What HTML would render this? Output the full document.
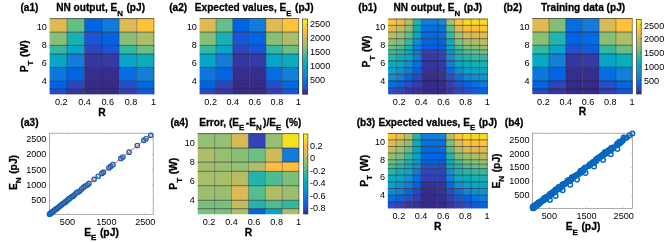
<!DOCTYPE html>
<html><head><meta charset="utf-8"><style>
html,body{margin:0;padding:0;background:#fff;width:665px;height:243px;overflow:hidden}
svg{display:block}
svg text{font-family:"Liberation Sans", sans-serif;fill:#000}
svg text[font-weight=bold]{stroke:#000;stroke-width:0.28px}
svg{will-change:transform}
</style></head><body>
<svg width="665" height="243" viewBox="0 0 665 243"><g class="t">
<text x="20.50" y="11.20" font-size="10.1" font-weight="bold" text-anchor="start" >(a1)</text>
<text x="56.20" y="11.20" font-size="10.1" font-weight="bold" text-anchor="start"><tspan>NN&#160;output,&#160;E</tspan><tspan font-size="7.88" dy="4.65">N</tspan><tspan font-size="10.1" dx="0.7" dy="-4.65">&#160;(pJ)</tspan></text>
<text x="169.20" y="11.20" font-size="10.1" font-weight="bold" text-anchor="start" >(a2)</text>
<text x="194.80" y="11.20" font-size="10.1" font-weight="bold" text-anchor="start"><tspan>Expected&#160;values,&#160;E</tspan><tspan font-size="7.88" dy="4.65">E</tspan><tspan font-size="10.1" dx="0.7" dy="-4.65">&#160;(pJ)</tspan></text>
<text x="358.30" y="11.20" font-size="10.1" font-weight="bold" text-anchor="start" >(b1)</text>
<text x="393.40" y="11.20" font-size="10.1" font-weight="bold" text-anchor="start"><tspan>NN&#160;output,&#160;E</tspan><tspan font-size="7.88" dy="4.65">N</tspan><tspan font-size="10.1" dx="0.7" dy="-4.65">&#160;(pJ)</tspan></text>
<text x="503.50" y="11.20" font-size="10.1" font-weight="bold" text-anchor="start" >(b2)</text>
<text x="541.00" y="11.20" font-size="10.1" font-weight="bold" text-anchor="start"><tspan>Training&#160;data&#160;(pJ)</tspan></text>
<text x="20.60" y="125.70" font-size="10.1" font-weight="bold" text-anchor="start" >(a3)</text>
<text x="170.40" y="125.70" font-size="10.1" font-weight="bold" text-anchor="start" >(a4)</text>
<text x="199.20" y="125.70" font-size="10.1" font-weight="bold" text-anchor="start"><tspan>Error,&#160;(E</tspan><tspan font-size="7.88" dy="4.65">E</tspan><tspan font-size="10.1" dx="1.5" dy="-4.65">-E</tspan><tspan font-size="7.88" dy="4.65">N</tspan><tspan font-size="10.1" dx="1.5" dy="-4.65">)/E</tspan><tspan font-size="7.88" dy="4.65">E</tspan><tspan font-size="10.1" dx="1.5" dy="-4.65">&#160;(%)</tspan></text>
<text x="356.70" y="125.70" font-size="10.1" font-weight="bold" text-anchor="start" >(b3)</text>
<text x="378.50" y="125.70" font-size="10.1" font-weight="bold" text-anchor="start"><tspan>Expected&#160;values,&#160;E</tspan><tspan font-size="7.88" dy="4.65">E</tspan><tspan font-size="10.1" dx="0.7" dy="-4.65">&#160;(pJ)</tspan></text>
<text x="504.80" y="125.70" font-size="10.1" font-weight="bold" text-anchor="start" >(b4)</text>
<rect x="49.60" y="18.30" width="17.48" height="13.91" fill="#ddba54"/>
<rect x="67.03" y="18.30" width="17.48" height="13.91" fill="#64be86"/>
<rect x="84.47" y="18.30" width="17.48" height="13.91" fill="#0364e1"/>
<rect x="101.90" y="18.30" width="17.48" height="13.91" fill="#117ada"/>
<rect x="119.33" y="18.30" width="17.48" height="13.91" fill="#ddba54"/>
<rect x="136.77" y="18.30" width="17.48" height="13.91" fill="#fec13a"/>
<rect x="49.60" y="32.16" width="17.48" height="13.28" fill="#88bf77"/>
<rect x="67.03" y="32.16" width="17.48" height="13.28" fill="#18b1b2"/>
<rect x="84.47" y="32.16" width="17.48" height="13.28" fill="#1b55d7"/>
<rect x="101.90" y="32.16" width="17.48" height="13.28" fill="#0364e1"/>
<rect x="119.33" y="32.16" width="17.48" height="13.28" fill="#88bf77"/>
<rect x="136.77" y="32.16" width="17.48" height="13.28" fill="#adbe68"/>
<rect x="49.60" y="45.39" width="17.48" height="8.72" fill="#33b8a1"/>
<rect x="67.03" y="45.39" width="17.48" height="8.72" fill="#06a5c9"/>
<rect x="84.47" y="45.39" width="17.48" height="8.72" fill="#2f46bf"/>
<rect x="101.90" y="45.39" width="17.48" height="8.72" fill="#1b55d7"/>
<rect x="119.33" y="45.39" width="17.48" height="8.72" fill="#33b8a1"/>
<rect x="136.77" y="45.39" width="17.48" height="8.72" fill="#6bbf83"/>
<rect x="49.60" y="54.06" width="17.48" height="13.46" fill="#06a6c6"/>
<rect x="67.03" y="54.06" width="17.48" height="13.46" fill="#127cd8"/>
<rect x="84.47" y="54.06" width="17.48" height="13.46" fill="#36369f"/>
<rect x="101.90" y="54.06" width="17.48" height="13.46" fill="#363aa7"/>
<rect x="119.33" y="54.06" width="17.48" height="13.46" fill="#06a3cb"/>
<rect x="136.77" y="54.06" width="17.48" height="13.46" fill="#0cadbb"/>
<rect x="49.60" y="67.48" width="17.48" height="13.82" fill="#0f77db"/>
<rect x="67.03" y="67.48" width="17.48" height="13.82" fill="#0364e1"/>
<rect x="84.47" y="67.48" width="17.48" height="13.82" fill="#362e8f"/>
<rect x="101.90" y="67.48" width="17.48" height="13.82" fill="#362e8f"/>
<rect x="119.33" y="67.48" width="17.48" height="13.82" fill="#056de0"/>
<rect x="136.77" y="67.48" width="17.48" height="13.82" fill="#137fd7"/>
<rect x="49.60" y="81.25" width="17.48" height="7.92" fill="#0364e1"/>
<rect x="67.03" y="81.25" width="17.48" height="7.92" fill="#3342b7"/>
<rect x="84.47" y="81.25" width="17.48" height="7.92" fill="#352a87"/>
<rect x="101.90" y="81.25" width="17.48" height="7.92" fill="#352a87"/>
<rect x="119.33" y="81.25" width="17.48" height="7.92" fill="#2b4bc7"/>
<rect x="136.77" y="81.25" width="17.48" height="7.92" fill="#0267e1"/>
<rect x="49.60" y="89.11" width="17.48" height="5.24" fill="#2f46bf"/>
<rect x="67.03" y="89.11" width="17.48" height="5.24" fill="#36369f"/>
<rect x="84.47" y="89.11" width="17.48" height="5.24" fill="#352a87"/>
<rect x="101.90" y="89.11" width="17.48" height="5.24" fill="#352a87"/>
<rect x="119.33" y="89.11" width="17.48" height="5.24" fill="#353eaf"/>
<rect x="136.77" y="89.11" width="17.48" height="5.24" fill="#1b55d7"/>
<path d="M67.03 18.30V94.30M84.47 18.30V94.30M101.90 18.30V94.30M119.33 18.30V94.30M136.77 18.30V94.30" stroke="#1a1a1a" stroke-width="0.6" stroke-opacity="0.6" fill="none"/>
<path d="M49.60 32.16H154.20M49.60 45.39H154.20M49.60 54.06H154.20M49.60 67.48H154.20M49.60 81.25H154.20M49.60 89.11H154.20" stroke="#1a1a1a" stroke-width="0.65" stroke-opacity="0.85" fill="none"/>
<path d="M49.60 18.60H153.90" fill="none" stroke="#1a1a1a" stroke-width="0.7" stroke-opacity="0.85"/>
<path d="M153.90 18.30V94.30" fill="none" stroke="#1a1a1a" stroke-width="0.7" stroke-opacity="0.6"/>
<text x="46.80" y="30.14" font-size="9.1" text-anchor="end" >10</text>
<text x="46.80" y="48.02" font-size="9.1" text-anchor="end" >8</text>
<text x="46.80" y="65.91" font-size="9.1" text-anchor="end" >6</text>
<text x="46.80" y="83.79" font-size="9.1" text-anchor="end" >4</text>
<text x="61.22" y="104.80" font-size="9.1" text-anchor="middle" >0.2</text>
<text x="84.47" y="104.80" font-size="9.1" text-anchor="middle" >0.4</text>
<text x="107.71" y="104.80" font-size="9.1" text-anchor="middle" >0.6</text>
<text x="130.96" y="104.80" font-size="9.1" text-anchor="middle" >0.8</text>
<text x="153.60" y="104.80" font-size="9.1" text-anchor="middle" >1</text>
<text transform="translate(27.80,56.30) rotate(-90)" font-size="10.3" font-weight="bold" text-anchor="middle"><tspan>P</tspan><tspan font-size="8.03" dy="4.74">T</tspan><tspan font-size="10.3" dx="0.7" dy="-4.74">&#160;(W)</tspan></text>
<text x="101.90" y="116.20" font-size="10.3" font-weight="bold" text-anchor="middle" >R</text>
<rect x="199.60" y="18.20" width="16.62" height="13.93" fill="#ddba54"/>
<rect x="216.17" y="18.20" width="16.62" height="13.93" fill="#64be86"/>
<rect x="232.73" y="18.20" width="16.62" height="13.93" fill="#0364e1"/>
<rect x="249.30" y="18.20" width="16.62" height="13.93" fill="#117ada"/>
<rect x="265.87" y="18.20" width="16.62" height="13.93" fill="#ddba54"/>
<rect x="282.43" y="18.20" width="16.62" height="13.93" fill="#fec13a"/>
<rect x="199.60" y="32.08" width="16.62" height="13.30" fill="#88bf77"/>
<rect x="216.17" y="32.08" width="16.62" height="13.30" fill="#18b1b2"/>
<rect x="232.73" y="32.08" width="16.62" height="13.30" fill="#1b55d7"/>
<rect x="249.30" y="32.08" width="16.62" height="13.30" fill="#0364e1"/>
<rect x="265.87" y="32.08" width="16.62" height="13.30" fill="#88bf77"/>
<rect x="282.43" y="32.08" width="16.62" height="13.30" fill="#adbe68"/>
<rect x="199.60" y="45.33" width="16.62" height="8.73" fill="#33b8a1"/>
<rect x="216.17" y="45.33" width="16.62" height="8.73" fill="#06a5c9"/>
<rect x="232.73" y="45.33" width="16.62" height="8.73" fill="#2f46bf"/>
<rect x="249.30" y="45.33" width="16.62" height="8.73" fill="#1b55d7"/>
<rect x="265.87" y="45.33" width="16.62" height="8.73" fill="#33b8a1"/>
<rect x="282.43" y="45.33" width="16.62" height="8.73" fill="#6bbf83"/>
<rect x="199.60" y="54.01" width="16.62" height="13.48" fill="#06a6c6"/>
<rect x="216.17" y="54.01" width="16.62" height="13.48" fill="#127cd8"/>
<rect x="232.73" y="54.01" width="16.62" height="13.48" fill="#36369f"/>
<rect x="249.30" y="54.01" width="16.62" height="13.48" fill="#363aa7"/>
<rect x="265.87" y="54.01" width="16.62" height="13.48" fill="#06a3cb"/>
<rect x="282.43" y="54.01" width="16.62" height="13.48" fill="#0cadbb"/>
<rect x="199.60" y="67.44" width="16.62" height="13.84" fill="#0f77db"/>
<rect x="216.17" y="67.44" width="16.62" height="13.84" fill="#0364e1"/>
<rect x="232.73" y="67.44" width="16.62" height="13.84" fill="#362e8f"/>
<rect x="249.30" y="67.44" width="16.62" height="13.84" fill="#362e8f"/>
<rect x="265.87" y="67.44" width="16.62" height="13.84" fill="#056de0"/>
<rect x="282.43" y="67.44" width="16.62" height="13.84" fill="#137fd7"/>
<rect x="199.60" y="81.23" width="16.62" height="7.93" fill="#0364e1"/>
<rect x="216.17" y="81.23" width="16.62" height="7.93" fill="#3342b7"/>
<rect x="232.73" y="81.23" width="16.62" height="7.93" fill="#352a87"/>
<rect x="249.30" y="81.23" width="16.62" height="7.93" fill="#352a87"/>
<rect x="265.87" y="81.23" width="16.62" height="7.93" fill="#2b4bc7"/>
<rect x="282.43" y="81.23" width="16.62" height="7.93" fill="#0267e1"/>
<rect x="199.60" y="89.11" width="16.62" height="5.24" fill="#2f46bf"/>
<rect x="216.17" y="89.11" width="16.62" height="5.24" fill="#36369f"/>
<rect x="232.73" y="89.11" width="16.62" height="5.24" fill="#352a87"/>
<rect x="249.30" y="89.11" width="16.62" height="5.24" fill="#352a87"/>
<rect x="265.87" y="89.11" width="16.62" height="5.24" fill="#353eaf"/>
<rect x="282.43" y="89.11" width="16.62" height="5.24" fill="#1b55d7"/>
<path d="M216.17 18.20V94.30M232.73 18.20V94.30M249.30 18.20V94.30M265.87 18.20V94.30M282.43 18.20V94.30" stroke="#1a1a1a" stroke-width="0.6" stroke-opacity="0.6" fill="none"/>
<path d="M199.60 32.08H299.00M199.60 45.33H299.00M199.60 54.01H299.00M199.60 67.44H299.00M199.60 81.23H299.00M199.60 89.11H299.00" stroke="#1a1a1a" stroke-width="0.65" stroke-opacity="0.85" fill="none"/>
<path d="M199.60 18.50H298.70" fill="none" stroke="#1a1a1a" stroke-width="0.7" stroke-opacity="0.85"/>
<path d="M298.70 18.20V94.30" fill="none" stroke="#1a1a1a" stroke-width="0.7" stroke-opacity="0.6"/>
<text x="196.80" y="30.05" font-size="9.1" text-anchor="end" >10</text>
<text x="196.80" y="47.96" font-size="9.1" text-anchor="end" >8</text>
<text x="196.80" y="65.86" font-size="9.1" text-anchor="end" >6</text>
<text x="196.80" y="83.77" font-size="9.1" text-anchor="end" >4</text>
<text x="210.64" y="104.80" font-size="9.1" text-anchor="middle" >0.2</text>
<text x="232.73" y="104.80" font-size="9.1" text-anchor="middle" >0.4</text>
<text x="254.82" y="104.80" font-size="9.1" text-anchor="middle" >0.6</text>
<text x="276.91" y="104.80" font-size="9.1" text-anchor="middle" >0.8</text>
<text x="298.40" y="104.80" font-size="9.1" text-anchor="middle" >1</text>
<defs><linearGradient id="cb302_19" x1="0" y1="1" x2="0" y2="0"><stop offset="0.0000" stop-color="#352a87"/><stop offset="0.0312" stop-color="#36369f"/><stop offset="0.0625" stop-color="#3243b9"/><stop offset="0.0938" stop-color="#2152d3"/><stop offset="0.1250" stop-color="#0462e0"/><stop offset="0.1562" stop-color="#046ce0"/><stop offset="0.1875" stop-color="#0c74dd"/><stop offset="0.2188" stop-color="#127cd8"/><stop offset="0.2500" stop-color="#1484d4"/><stop offset="0.2812" stop-color="#118dd2"/><stop offset="0.3125" stop-color="#0a97d1"/><stop offset="0.3438" stop-color="#069fce"/><stop offset="0.3750" stop-color="#06a6c7"/><stop offset="0.4062" stop-color="#09abbf"/><stop offset="0.4375" stop-color="#13b0b6"/><stop offset="0.4688" stop-color="#21b4ac"/><stop offset="0.5000" stop-color="#33b8a1"/><stop offset="0.5312" stop-color="#47bb95"/><stop offset="0.5625" stop-color="#5ebe89"/><stop offset="0.5938" stop-color="#75bf7e"/><stop offset="0.6250" stop-color="#8bbf75"/><stop offset="0.6562" stop-color="#9fbe6d"/><stop offset="0.6875" stop-color="#b1bd66"/><stop offset="0.7188" stop-color="#c2bc5f"/><stop offset="0.7500" stop-color="#d3bb58"/><stop offset="0.7812" stop-color="#e3b951"/><stop offset="0.8125" stop-color="#f2b949"/><stop offset="0.8438" stop-color="#febf3c"/><stop offset="0.8750" stop-color="#fec932"/><stop offset="0.9062" stop-color="#f9d329"/><stop offset="0.9375" stop-color="#f5de21"/><stop offset="0.9688" stop-color="#f5eb18"/><stop offset="1.0000" stop-color="#f9fb0e"/></linearGradient></defs>
<rect x="302.50" y="19.00" width="5.20" height="75.20" fill="url(#cb302_19)" stroke="#262626" stroke-width="0.6"/>
<path d="M306.40 80.27H307.70" stroke="#262626" stroke-width="0.5"/>
<text x="310.00" y="83.17" font-size="9.1" text-anchor="start" >500</text>
<path d="M306.40 66.35H307.70" stroke="#262626" stroke-width="0.5"/>
<text x="310.00" y="69.25" font-size="9.1" text-anchor="start" >1000</text>
<path d="M306.40 52.42H307.70" stroke="#262626" stroke-width="0.5"/>
<text x="310.00" y="55.32" font-size="9.1" text-anchor="start" >1500</text>
<path d="M306.40 38.50H307.70" stroke="#262626" stroke-width="0.5"/>
<text x="310.00" y="41.40" font-size="9.1" text-anchor="start" >2000</text>
<path d="M306.40 24.57H307.70" stroke="#262626" stroke-width="0.5"/>
<text x="310.00" y="27.47" font-size="9.1" text-anchor="start" >2500</text>
<rect x="388.10" y="18.70" width="8.36" height="6.72" fill="#ffc436"/>
<rect x="396.41" y="18.70" width="8.36" height="6.72" fill="#ecb94c"/>
<rect x="404.72" y="18.70" width="8.36" height="6.72" fill="#b8bd63"/>
<rect x="413.03" y="18.70" width="8.36" height="6.72" fill="#22b4ac"/>
<rect x="421.33" y="18.70" width="16.67" height="6.72" fill="#127cd8"/>
<rect x="437.95" y="18.70" width="8.36" height="6.72" fill="#1389d3"/>
<rect x="446.26" y="18.70" width="8.36" height="6.72" fill="#a1be6c"/>
<rect x="454.57" y="18.70" width="8.36" height="6.72" fill="#ffc436"/>
<rect x="462.88" y="18.70" width="8.36" height="6.72" fill="#f7d826"/>
<rect x="471.18" y="18.70" width="8.36" height="6.72" fill="#f7d826"/>
<rect x="479.49" y="18.70" width="8.36" height="6.72" fill="#f7d826"/>
<rect x="388.10" y="25.37" width="8.36" height="6.72" fill="#e2b951"/>
<rect x="396.41" y="25.37" width="8.36" height="6.72" fill="#c3bc5f"/>
<rect x="404.72" y="25.37" width="8.36" height="6.72" fill="#88bf77"/>
<rect x="413.03" y="25.37" width="8.36" height="6.72" fill="#0cadbb"/>
<rect x="421.33" y="25.37" width="16.67" height="6.72" fill="#0770df"/>
<rect x="437.95" y="25.37" width="8.36" height="6.72" fill="#0770df"/>
<rect x="446.26" y="25.37" width="8.36" height="6.72" fill="#5cbe8a"/>
<rect x="454.57" y="25.37" width="8.36" height="6.72" fill="#ddba54"/>
<rect x="462.88" y="25.37" width="8.36" height="6.72" fill="#fdbe3e"/>
<rect x="471.18" y="25.37" width="8.36" height="6.72" fill="#fdbe3e"/>
<rect x="479.49" y="25.37" width="8.36" height="6.72" fill="#ffc436"/>
<rect x="388.10" y="32.04" width="8.36" height="6.72" fill="#bebc61"/>
<rect x="396.41" y="32.04" width="8.36" height="6.72" fill="#9bbf6f"/>
<rect x="404.72" y="32.04" width="8.36" height="6.72" fill="#5cbe8a"/>
<rect x="413.03" y="32.04" width="8.36" height="6.72" fill="#06a5c9"/>
<rect x="421.33" y="32.04" width="16.67" height="6.72" fill="#0267e1"/>
<rect x="437.95" y="32.04" width="8.36" height="6.72" fill="#056de0"/>
<rect x="446.26" y="32.04" width="8.36" height="6.72" fill="#33b8a1"/>
<rect x="454.57" y="32.04" width="8.36" height="6.72" fill="#adbe68"/>
<rect x="462.88" y="32.04" width="8.36" height="6.72" fill="#d8ba56"/>
<rect x="471.18" y="32.04" width="8.36" height="6.72" fill="#ddba54"/>
<rect x="479.49" y="32.04" width="8.36" height="6.72" fill="#e2b951"/>
<rect x="388.10" y="38.71" width="8.36" height="6.72" fill="#8ebf74"/>
<rect x="396.41" y="38.71" width="8.36" height="6.72" fill="#7abf7c"/>
<rect x="404.72" y="38.71" width="8.36" height="6.72" fill="#33b8a1"/>
<rect x="413.03" y="38.71" width="8.36" height="6.72" fill="#118cd2"/>
<rect x="421.33" y="38.71" width="16.67" height="6.72" fill="#0364e1"/>
<rect x="437.95" y="38.71" width="8.36" height="6.72" fill="#0364e1"/>
<rect x="446.26" y="38.71" width="8.36" height="6.72" fill="#0cadbb"/>
<rect x="454.57" y="38.71" width="8.36" height="6.72" fill="#7abf7c"/>
<rect x="462.88" y="38.71" width="8.36" height="6.72" fill="#a1be6c"/>
<rect x="471.18" y="38.71" width="8.36" height="6.72" fill="#adbe68"/>
<rect x="479.49" y="38.71" width="8.36" height="6.72" fill="#b8bd63"/>
<rect x="388.10" y="45.38" width="8.36" height="4.50" fill="#6bbf83"/>
<rect x="396.41" y="45.38" width="8.36" height="4.50" fill="#4dbc92"/>
<rect x="404.72" y="45.38" width="8.36" height="4.50" fill="#18b1b2"/>
<rect x="413.03" y="45.38" width="8.36" height="4.50" fill="#137fd7"/>
<rect x="421.33" y="45.38" width="16.67" height="4.50" fill="#105bdd"/>
<rect x="437.95" y="45.38" width="8.36" height="4.50" fill="#0860df"/>
<rect x="446.26" y="45.38" width="8.36" height="4.50" fill="#06a8c4"/>
<rect x="454.57" y="45.38" width="8.36" height="4.50" fill="#46bb95"/>
<rect x="462.88" y="45.38" width="8.36" height="4.50" fill="#7abf7c"/>
<rect x="471.18" y="45.38" width="8.36" height="4.50" fill="#88bf77"/>
<rect x="479.49" y="45.38" width="8.36" height="4.50" fill="#9bbf6f"/>
<rect x="388.10" y="49.83" width="8.36" height="4.50" fill="#3fba99"/>
<rect x="396.41" y="49.83" width="8.36" height="4.50" fill="#27b5a8"/>
<rect x="404.72" y="49.83" width="8.36" height="4.50" fill="#07aac1"/>
<rect x="413.03" y="49.83" width="8.36" height="4.50" fill="#117ada"/>
<rect x="421.33" y="49.83" width="16.67" height="4.50" fill="#3342b7"/>
<rect x="437.95" y="49.83" width="8.36" height="4.50" fill="#2b4bc7"/>
<rect x="446.26" y="49.83" width="8.36" height="4.50" fill="#0d93d2"/>
<rect x="454.57" y="49.83" width="8.36" height="4.50" fill="#22b4ac"/>
<rect x="462.88" y="49.83" width="8.36" height="4.50" fill="#4dbc92"/>
<rect x="471.18" y="49.83" width="8.36" height="4.50" fill="#64be86"/>
<rect x="479.49" y="49.83" width="8.36" height="4.50" fill="#73bf80"/>
<rect x="388.10" y="54.28" width="8.36" height="6.72" fill="#27b5a8"/>
<rect x="396.41" y="54.28" width="8.36" height="6.72" fill="#0cadbb"/>
<rect x="404.72" y="54.28" width="8.36" height="6.72" fill="#06a5c9"/>
<rect x="413.03" y="54.28" width="8.36" height="6.72" fill="#127cd8"/>
<rect x="421.33" y="54.28" width="16.67" height="6.72" fill="#363aa7"/>
<rect x="437.95" y="54.28" width="8.36" height="6.72" fill="#3342b7"/>
<rect x="446.26" y="54.28" width="8.36" height="6.72" fill="#118cd2"/>
<rect x="454.57" y="54.28" width="8.36" height="6.72" fill="#14b0b5"/>
<rect x="462.88" y="54.28" width="8.36" height="6.72" fill="#27b5a8"/>
<rect x="471.18" y="54.28" width="8.36" height="6.72" fill="#33b8a1"/>
<rect x="479.49" y="54.28" width="8.36" height="6.72" fill="#33b8a1"/>
<rect x="388.10" y="60.95" width="8.36" height="6.72" fill="#09acbe"/>
<rect x="396.41" y="60.95" width="8.36" height="6.72" fill="#06a8c4"/>
<rect x="404.72" y="60.95" width="8.36" height="6.72" fill="#0f8fd2"/>
<rect x="413.03" y="60.95" width="8.36" height="6.72" fill="#0770df"/>
<rect x="421.33" y="60.95" width="16.67" height="6.72" fill="#36369f"/>
<rect x="437.95" y="60.95" width="8.36" height="6.72" fill="#363aa7"/>
<rect x="446.26" y="60.95" width="8.36" height="6.72" fill="#127cd8"/>
<rect x="454.57" y="60.95" width="8.36" height="6.72" fill="#06a8c4"/>
<rect x="462.88" y="60.95" width="8.36" height="6.72" fill="#09acbe"/>
<rect x="471.18" y="60.95" width="8.36" height="6.72" fill="#14b0b5"/>
<rect x="479.49" y="60.95" width="8.36" height="6.72" fill="#18b1b2"/>
<rect x="388.10" y="67.62" width="8.36" height="6.72" fill="#06a3cb"/>
<rect x="396.41" y="67.62" width="8.36" height="6.72" fill="#0f8fd2"/>
<rect x="404.72" y="67.62" width="8.36" height="6.72" fill="#127cd8"/>
<rect x="413.03" y="67.62" width="8.36" height="6.72" fill="#0364e1"/>
<rect x="421.33" y="67.62" width="16.67" height="6.72" fill="#363297"/>
<rect x="437.95" y="67.62" width="8.36" height="6.72" fill="#36369f"/>
<rect x="446.26" y="67.62" width="8.36" height="6.72" fill="#036ae1"/>
<rect x="454.57" y="67.62" width="8.36" height="6.72" fill="#0f8fd2"/>
<rect x="462.88" y="67.62" width="8.36" height="6.72" fill="#06a3cb"/>
<rect x="471.18" y="67.62" width="8.36" height="6.72" fill="#06a5c9"/>
<rect x="479.49" y="67.62" width="8.36" height="6.72" fill="#06a8c4"/>
<rect x="388.10" y="74.29" width="8.36" height="6.72" fill="#118cd2"/>
<rect x="396.41" y="74.29" width="8.36" height="6.72" fill="#127cd8"/>
<rect x="404.72" y="74.29" width="8.36" height="6.72" fill="#0267e1"/>
<rect x="413.03" y="74.29" width="8.36" height="6.72" fill="#2f46bf"/>
<rect x="421.33" y="74.29" width="16.67" height="6.72" fill="#362e8f"/>
<rect x="437.95" y="74.29" width="8.36" height="6.72" fill="#363297"/>
<rect x="446.26" y="74.29" width="8.36" height="6.72" fill="#2b4bc7"/>
<rect x="454.57" y="74.29" width="8.36" height="6.72" fill="#0770df"/>
<rect x="462.88" y="74.29" width="8.36" height="6.72" fill="#1484d4"/>
<rect x="471.18" y="74.29" width="8.36" height="6.72" fill="#118cd2"/>
<rect x="479.49" y="74.29" width="8.36" height="6.72" fill="#0d93d2"/>
<rect x="388.10" y="80.96" width="8.36" height="6.72" fill="#056de0"/>
<rect x="396.41" y="80.96" width="8.36" height="6.72" fill="#0364e1"/>
<rect x="404.72" y="80.96" width="8.36" height="6.72" fill="#2b4bc7"/>
<rect x="413.03" y="80.96" width="8.36" height="6.72" fill="#353eaf"/>
<rect x="421.33" y="80.96" width="16.67" height="6.72" fill="#352a87"/>
<rect x="437.95" y="80.96" width="8.36" height="6.72" fill="#362e8f"/>
<rect x="446.26" y="80.96" width="8.36" height="6.72" fill="#353eaf"/>
<rect x="454.57" y="80.96" width="8.36" height="6.72" fill="#1b55d7"/>
<rect x="462.88" y="80.96" width="8.36" height="6.72" fill="#0364e1"/>
<rect x="471.18" y="80.96" width="8.36" height="6.72" fill="#0770df"/>
<rect x="479.49" y="80.96" width="8.36" height="6.72" fill="#117ada"/>
<rect x="388.10" y="87.63" width="8.36" height="6.72" fill="#2b4bc7"/>
<rect x="396.41" y="87.63" width="8.36" height="6.72" fill="#3342b7"/>
<rect x="404.72" y="87.63" width="8.36" height="6.72" fill="#36369f"/>
<rect x="413.03" y="87.63" width="8.36" height="6.72" fill="#363297"/>
<rect x="421.33" y="87.63" width="16.67" height="6.72" fill="#352a87"/>
<rect x="437.95" y="87.63" width="8.36" height="6.72" fill="#352a87"/>
<rect x="446.26" y="87.63" width="8.36" height="6.72" fill="#36369f"/>
<rect x="454.57" y="87.63" width="8.36" height="6.72" fill="#3342b7"/>
<rect x="462.88" y="87.63" width="8.36" height="6.72" fill="#2b4bc7"/>
<rect x="471.18" y="87.63" width="8.36" height="6.72" fill="#105bdd"/>
<rect x="479.49" y="87.63" width="8.36" height="6.72" fill="#0364e1"/>
<path d="M396.41 18.70V94.30M404.72 18.70V94.30M413.03 18.70V94.30M421.33 18.70V94.30M437.95 18.70V94.30M446.26 18.70V94.30M454.57 18.70V94.30M462.88 18.70V94.30M471.18 18.70V94.30M479.49 18.70V94.30" stroke="#1a1a1a" stroke-width="0.6" stroke-opacity="0.6" fill="none"/>
<path d="M388.10 25.37H487.80M388.10 32.04H487.80M388.10 38.71H487.80M388.10 45.38H487.80M388.10 49.83H487.80M388.10 54.28H487.80M388.10 60.95H487.80M388.10 67.62H487.80M388.10 74.29H487.80M388.10 80.96H487.80M388.10 87.63H487.80" stroke="#1a1a1a" stroke-width="0.65" stroke-opacity="0.85" fill="none"/>
<path d="M388.10 19.00H487.50" fill="none" stroke="#1a1a1a" stroke-width="0.7" stroke-opacity="0.85"/>
<path d="M487.50 18.70V94.30" fill="none" stroke="#1a1a1a" stroke-width="0.7" stroke-opacity="0.6"/>
<text x="385.30" y="30.49" font-size="9.1" text-anchor="end" >10</text>
<text x="385.30" y="48.28" font-size="9.1" text-anchor="end" >8</text>
<text x="385.30" y="66.07" font-size="9.1" text-anchor="end" >6</text>
<text x="385.30" y="83.86" font-size="9.1" text-anchor="end" >4</text>
<text x="399.18" y="104.80" font-size="9.1" text-anchor="middle" >0.2</text>
<text x="421.33" y="104.80" font-size="9.1" text-anchor="middle" >0.4</text>
<text x="443.49" y="104.80" font-size="9.1" text-anchor="middle" >0.6</text>
<text x="465.64" y="104.80" font-size="9.1" text-anchor="middle" >0.8</text>
<text x="487.20" y="104.80" font-size="9.1" text-anchor="middle" >1</text>
<text transform="translate(369.80,51.50) rotate(-90)" font-size="10.3" font-weight="bold" text-anchor="middle"><tspan>P</tspan><tspan font-size="8.03" dy="4.74">T</tspan><tspan font-size="10.3" dx="0.7" dy="-4.74">&#160;(W)</tspan></text>
<rect x="532.30" y="18.20" width="16.77" height="13.89" fill="#ddba54"/>
<rect x="549.02" y="18.20" width="16.77" height="13.89" fill="#81bf79"/>
<rect x="565.73" y="18.20" width="16.77" height="13.89" fill="#056de0"/>
<rect x="582.45" y="18.20" width="16.77" height="13.89" fill="#117ada"/>
<rect x="599.17" y="18.20" width="16.77" height="13.89" fill="#d8ba56"/>
<rect x="615.88" y="18.20" width="16.77" height="13.89" fill="#fec13a"/>
<rect x="532.30" y="32.04" width="16.77" height="13.27" fill="#88bf77"/>
<rect x="549.02" y="32.04" width="16.77" height="13.27" fill="#22b4ac"/>
<rect x="565.73" y="32.04" width="16.77" height="13.27" fill="#0364e1"/>
<rect x="582.45" y="32.04" width="16.77" height="13.27" fill="#036ae1"/>
<rect x="599.17" y="32.04" width="16.77" height="13.27" fill="#88bf77"/>
<rect x="615.88" y="32.04" width="16.77" height="13.27" fill="#adbe68"/>
<rect x="532.30" y="45.26" width="16.77" height="8.71" fill="#33b8a1"/>
<rect x="549.02" y="45.26" width="16.77" height="8.71" fill="#06a5c9"/>
<rect x="565.73" y="45.26" width="16.77" height="8.71" fill="#2450cf"/>
<rect x="582.45" y="45.26" width="16.77" height="8.71" fill="#105bdd"/>
<rect x="599.17" y="45.26" width="16.77" height="8.71" fill="#33b8a1"/>
<rect x="615.88" y="45.26" width="16.77" height="8.71" fill="#6bbf83"/>
<rect x="532.30" y="53.92" width="16.77" height="13.44" fill="#07aac1"/>
<rect x="549.02" y="53.92" width="16.77" height="13.44" fill="#137fd7"/>
<rect x="565.73" y="53.92" width="16.77" height="13.44" fill="#36369f"/>
<rect x="582.45" y="53.92" width="16.77" height="13.44" fill="#363aa7"/>
<rect x="599.17" y="53.92" width="16.77" height="13.44" fill="#06a3cb"/>
<rect x="615.88" y="53.92" width="16.77" height="13.44" fill="#0cadbb"/>
<rect x="532.30" y="67.31" width="16.77" height="13.80" fill="#0f77db"/>
<rect x="549.02" y="67.31" width="16.77" height="13.80" fill="#0364e1"/>
<rect x="565.73" y="67.31" width="16.77" height="13.80" fill="#362e8f"/>
<rect x="582.45" y="67.31" width="16.77" height="13.80" fill="#362e8f"/>
<rect x="599.17" y="67.31" width="16.77" height="13.80" fill="#056de0"/>
<rect x="615.88" y="67.31" width="16.77" height="13.80" fill="#137fd7"/>
<rect x="532.30" y="81.06" width="16.77" height="7.91" fill="#0364e1"/>
<rect x="549.02" y="81.06" width="16.77" height="7.91" fill="#3342b7"/>
<rect x="565.73" y="81.06" width="16.77" height="7.91" fill="#352a87"/>
<rect x="582.45" y="81.06" width="16.77" height="7.91" fill="#352a87"/>
<rect x="599.17" y="81.06" width="16.77" height="7.91" fill="#2b4bc7"/>
<rect x="615.88" y="81.06" width="16.77" height="7.91" fill="#0267e1"/>
<rect x="532.30" y="88.92" width="16.77" height="5.23" fill="#2f46bf"/>
<rect x="549.02" y="88.92" width="16.77" height="5.23" fill="#36369f"/>
<rect x="565.73" y="88.92" width="16.77" height="5.23" fill="#352a87"/>
<rect x="582.45" y="88.92" width="16.77" height="5.23" fill="#352a87"/>
<rect x="599.17" y="88.92" width="16.77" height="5.23" fill="#353eaf"/>
<rect x="615.88" y="88.92" width="16.77" height="5.23" fill="#1b55d7"/>
<path d="M549.02 18.20V94.10M565.73 18.20V94.10M582.45 18.20V94.10M599.17 18.20V94.10M615.88 18.20V94.10" stroke="#1a1a1a" stroke-width="0.6" stroke-opacity="0.6" fill="none"/>
<path d="M532.30 32.04H632.60M532.30 45.26H632.60M532.30 53.92H632.60M532.30 67.31H632.60M532.30 81.06H632.60M532.30 88.92H632.60" stroke="#1a1a1a" stroke-width="0.65" stroke-opacity="0.85" fill="none"/>
<path d="M532.30 18.50H632.30" fill="none" stroke="#1a1a1a" stroke-width="0.7" stroke-opacity="0.85"/>
<path d="M632.30 18.20V94.10" fill="none" stroke="#1a1a1a" stroke-width="0.7" stroke-opacity="0.6"/>
<text x="529.50" y="30.03" font-size="9.1" text-anchor="end" >10</text>
<text x="529.50" y="47.89" font-size="9.1" text-anchor="end" >8</text>
<text x="529.50" y="65.75" font-size="9.1" text-anchor="end" >6</text>
<text x="529.50" y="83.61" font-size="9.1" text-anchor="end" >4</text>
<text x="543.44" y="104.60" font-size="9.1" text-anchor="middle" >0.2</text>
<text x="565.73" y="104.60" font-size="9.1" text-anchor="middle" >0.4</text>
<text x="588.02" y="104.60" font-size="9.1" text-anchor="middle" >0.6</text>
<text x="610.31" y="104.60" font-size="9.1" text-anchor="middle" >0.8</text>
<text x="632.00" y="104.60" font-size="9.1" text-anchor="middle" >1</text>
<text x="582.45" y="115.00" font-size="10.3" font-weight="bold" text-anchor="middle" >R</text>
<defs><linearGradient id="cb636_19" x1="0" y1="1" x2="0" y2="0"><stop offset="0.0000" stop-color="#352a87"/><stop offset="0.0312" stop-color="#36369f"/><stop offset="0.0625" stop-color="#3243b9"/><stop offset="0.0938" stop-color="#2152d3"/><stop offset="0.1250" stop-color="#0462e0"/><stop offset="0.1562" stop-color="#046ce0"/><stop offset="0.1875" stop-color="#0c74dd"/><stop offset="0.2188" stop-color="#127cd8"/><stop offset="0.2500" stop-color="#1484d4"/><stop offset="0.2812" stop-color="#118dd2"/><stop offset="0.3125" stop-color="#0a97d1"/><stop offset="0.3438" stop-color="#069fce"/><stop offset="0.3750" stop-color="#06a6c7"/><stop offset="0.4062" stop-color="#09abbf"/><stop offset="0.4375" stop-color="#13b0b6"/><stop offset="0.4688" stop-color="#21b4ac"/><stop offset="0.5000" stop-color="#33b8a1"/><stop offset="0.5312" stop-color="#47bb95"/><stop offset="0.5625" stop-color="#5ebe89"/><stop offset="0.5938" stop-color="#75bf7e"/><stop offset="0.6250" stop-color="#8bbf75"/><stop offset="0.6562" stop-color="#9fbe6d"/><stop offset="0.6875" stop-color="#b1bd66"/><stop offset="0.7188" stop-color="#c2bc5f"/><stop offset="0.7500" stop-color="#d3bb58"/><stop offset="0.7812" stop-color="#e3b951"/><stop offset="0.8125" stop-color="#f2b949"/><stop offset="0.8438" stop-color="#febf3c"/><stop offset="0.8750" stop-color="#fec932"/><stop offset="0.9062" stop-color="#f9d329"/><stop offset="0.9375" stop-color="#f5de21"/><stop offset="0.9688" stop-color="#f5eb18"/><stop offset="1.0000" stop-color="#f9fb0e"/></linearGradient></defs>
<rect x="636.50" y="19.40" width="4.70" height="74.60" fill="url(#cb636_19)" stroke="#262626" stroke-width="0.6"/>
<path d="M639.90 80.19H641.20" stroke="#262626" stroke-width="0.5"/>
<text x="644.00" y="83.79" font-size="9.1" text-anchor="start" >500</text>
<path d="M639.90 66.37H641.20" stroke="#262626" stroke-width="0.5"/>
<text x="644.00" y="69.97" font-size="9.1" text-anchor="start" >1000</text>
<path d="M639.90 52.56H641.20" stroke="#262626" stroke-width="0.5"/>
<text x="644.00" y="56.16" font-size="9.1" text-anchor="start" >1500</text>
<path d="M639.90 38.74H641.20" stroke="#262626" stroke-width="0.5"/>
<text x="644.00" y="42.34" font-size="9.1" text-anchor="start" >2000</text>
<path d="M639.90 24.93H641.20" stroke="#262626" stroke-width="0.5"/>
<text x="644.00" y="28.53" font-size="9.1" text-anchor="start" >2500</text>
<rect x="197.70" y="133.30" width="16.97" height="14.80" fill="#95bf71"/>
<rect x="214.62" y="133.30" width="16.97" height="14.80" fill="#95bf71"/>
<rect x="231.53" y="133.30" width="16.97" height="14.80" fill="#d8ba56"/>
<rect x="248.45" y="133.30" width="16.97" height="14.80" fill="#3342b7"/>
<rect x="265.37" y="133.30" width="16.97" height="14.80" fill="#95bf71"/>
<rect x="282.28" y="133.30" width="16.97" height="14.80" fill="#f5df20"/>
<rect x="197.70" y="148.05" width="16.97" height="14.14" fill="#adbe68"/>
<rect x="214.62" y="148.05" width="16.97" height="14.14" fill="#95bf71"/>
<rect x="231.53" y="148.05" width="16.97" height="14.14" fill="#88bf77"/>
<rect x="248.45" y="148.05" width="16.97" height="14.14" fill="#6bbf83"/>
<rect x="265.37" y="148.05" width="16.97" height="14.14" fill="#cebb5b"/>
<rect x="282.28" y="148.05" width="16.97" height="14.14" fill="#127cd8"/>
<rect x="197.70" y="162.14" width="16.97" height="9.28" fill="#a1be6c"/>
<rect x="214.62" y="162.14" width="16.97" height="9.28" fill="#9bbf6f"/>
<rect x="231.53" y="162.14" width="16.97" height="9.28" fill="#95bf71"/>
<rect x="248.45" y="162.14" width="16.97" height="9.28" fill="#adbe68"/>
<rect x="265.37" y="162.14" width="16.97" height="9.28" fill="#fdbe3e"/>
<rect x="282.28" y="162.14" width="16.97" height="9.28" fill="#fdbe3e"/>
<rect x="197.70" y="171.37" width="16.97" height="14.33" fill="#a7be6a"/>
<rect x="214.62" y="171.37" width="16.97" height="14.33" fill="#a7be6a"/>
<rect x="231.53" y="171.37" width="16.97" height="14.33" fill="#b8bd63"/>
<rect x="248.45" y="171.37" width="16.97" height="14.33" fill="#22b4ac"/>
<rect x="265.37" y="171.37" width="16.97" height="14.33" fill="#4dbc92"/>
<rect x="282.28" y="171.37" width="16.97" height="14.33" fill="#7abf7c"/>
<rect x="197.70" y="185.65" width="16.97" height="14.71" fill="#9bbf6f"/>
<rect x="214.62" y="185.65" width="16.97" height="14.71" fill="#95bf71"/>
<rect x="231.53" y="185.65" width="16.97" height="14.71" fill="#ddba54"/>
<rect x="248.45" y="185.65" width="16.97" height="14.71" fill="#55bd8e"/>
<rect x="265.37" y="185.65" width="16.97" height="14.71" fill="#adbe68"/>
<rect x="282.28" y="185.65" width="16.97" height="14.71" fill="#9bbf6f"/>
<rect x="197.70" y="200.30" width="16.97" height="8.43" fill="#7abf7c"/>
<rect x="214.62" y="200.30" width="16.97" height="8.43" fill="#7abf7c"/>
<rect x="231.53" y="200.30" width="16.97" height="8.43" fill="#c3bc5f"/>
<rect x="248.45" y="200.30" width="16.97" height="8.43" fill="#22b4ac"/>
<rect x="265.37" y="200.30" width="16.97" height="8.43" fill="#4dbc92"/>
<rect x="282.28" y="200.30" width="16.97" height="8.43" fill="#33b8a1"/>
<rect x="197.70" y="208.68" width="16.97" height="5.57" fill="#7abf7c"/>
<rect x="214.62" y="208.68" width="16.97" height="5.57" fill="#7abf7c"/>
<rect x="231.53" y="208.68" width="16.97" height="5.57" fill="#adbe68"/>
<rect x="248.45" y="208.68" width="16.97" height="5.57" fill="#0364e1"/>
<rect x="265.37" y="208.68" width="16.97" height="5.57" fill="#06a3cb"/>
<rect x="282.28" y="208.68" width="16.97" height="5.57" fill="#adbe68"/>
<path d="M214.62 133.30V214.20M231.53 133.30V214.20M248.45 133.30V214.20M265.37 133.30V214.20M282.28 133.30V214.20" stroke="#1a1a1a" stroke-width="0.6" stroke-opacity="0.6" fill="none"/>
<path d="M197.70 148.05H299.20M197.70 162.14H299.20M197.70 171.37H299.20M197.70 185.65H299.20M197.70 200.30H299.20M197.70 208.68H299.20" stroke="#1a1a1a" stroke-width="0.65" stroke-opacity="0.85" fill="none"/>
<path d="M197.70 133.60H298.90" fill="none" stroke="#1a1a1a" stroke-width="0.7" stroke-opacity="0.85"/>
<path d="M298.90 133.30V214.20" fill="none" stroke="#1a1a1a" stroke-width="0.7" stroke-opacity="0.6"/>
<text x="194.90" y="145.72" font-size="9.1" text-anchor="end" >10</text>
<text x="194.90" y="164.75" font-size="9.1" text-anchor="end" >8</text>
<text x="194.90" y="183.79" font-size="9.1" text-anchor="end" >6</text>
<text x="194.90" y="202.82" font-size="9.1" text-anchor="end" >4</text>
<text x="208.98" y="224.70" font-size="9.1" text-anchor="middle" >0.2</text>
<text x="231.53" y="224.70" font-size="9.1" text-anchor="middle" >0.4</text>
<text x="254.09" y="224.70" font-size="9.1" text-anchor="middle" >0.6</text>
<text x="276.64" y="224.70" font-size="9.1" text-anchor="middle" >0.8</text>
<text x="298.60" y="224.70" font-size="9.1" text-anchor="middle" >1</text>
<text transform="translate(176.80,173.75) rotate(-90)" font-size="10.3" font-weight="bold" text-anchor="middle"><tspan>P</tspan><tspan font-size="8.03" dy="4.74">T</tspan><tspan font-size="10.3" dx="0.7" dy="-4.74">&#160;(W)</tspan></text>
<text x="248.45" y="235.60" font-size="10.3" font-weight="bold" text-anchor="middle" >R</text>
<defs><linearGradient id="cb303_134" x1="0" y1="1" x2="0" y2="0"><stop offset="0.0000" stop-color="#352a87"/><stop offset="0.0312" stop-color="#36369f"/><stop offset="0.0625" stop-color="#3243b9"/><stop offset="0.0938" stop-color="#2152d3"/><stop offset="0.1250" stop-color="#0462e0"/><stop offset="0.1562" stop-color="#046ce0"/><stop offset="0.1875" stop-color="#0c74dd"/><stop offset="0.2188" stop-color="#127cd8"/><stop offset="0.2500" stop-color="#1484d4"/><stop offset="0.2812" stop-color="#118dd2"/><stop offset="0.3125" stop-color="#0a97d1"/><stop offset="0.3438" stop-color="#069fce"/><stop offset="0.3750" stop-color="#06a6c7"/><stop offset="0.4062" stop-color="#09abbf"/><stop offset="0.4375" stop-color="#13b0b6"/><stop offset="0.4688" stop-color="#21b4ac"/><stop offset="0.5000" stop-color="#33b8a1"/><stop offset="0.5312" stop-color="#47bb95"/><stop offset="0.5625" stop-color="#5ebe89"/><stop offset="0.5938" stop-color="#75bf7e"/><stop offset="0.6250" stop-color="#8bbf75"/><stop offset="0.6562" stop-color="#9fbe6d"/><stop offset="0.6875" stop-color="#b1bd66"/><stop offset="0.7188" stop-color="#c2bc5f"/><stop offset="0.7500" stop-color="#d3bb58"/><stop offset="0.7812" stop-color="#e3b951"/><stop offset="0.8125" stop-color="#f2b949"/><stop offset="0.8438" stop-color="#febf3c"/><stop offset="0.8750" stop-color="#fec932"/><stop offset="0.9062" stop-color="#f9d329"/><stop offset="0.9375" stop-color="#f5de21"/><stop offset="0.9688" stop-color="#f5eb18"/><stop offset="1.0000" stop-color="#f9fb0e"/></linearGradient></defs>
<rect x="303.50" y="134.00" width="4.40" height="80.00" fill="url(#cb303_134)" stroke="#262626" stroke-width="0.6"/>
<path d="M306.60 145.70H307.90" stroke="#262626" stroke-width="0.5"/>
<text x="310.00" y="148.60" font-size="9.1" text-anchor="start" >0.2</text>
<path d="M306.60 158.28H307.90" stroke="#262626" stroke-width="0.5"/>
<text x="310.00" y="161.18" font-size="9.1" text-anchor="start" >0</text>
<path d="M306.60 170.86H307.90" stroke="#262626" stroke-width="0.5"/>
<text x="310.00" y="173.76" font-size="9.1" text-anchor="start" >-0.2</text>
<path d="M306.60 183.43H307.90" stroke="#262626" stroke-width="0.5"/>
<text x="310.00" y="186.33" font-size="9.1" text-anchor="start" >-0.4</text>
<path d="M306.60 196.01H307.90" stroke="#262626" stroke-width="0.5"/>
<text x="310.00" y="198.91" font-size="9.1" text-anchor="start" >-0.6</text>
<path d="M306.60 208.59H307.90" stroke="#262626" stroke-width="0.5"/>
<text x="310.00" y="211.49" font-size="9.1" text-anchor="start" >-0.8</text>
<rect x="387.80" y="133.20" width="8.37" height="6.69" fill="#ffc436"/>
<rect x="396.12" y="133.20" width="8.37" height="6.69" fill="#ecb94c"/>
<rect x="404.43" y="133.20" width="8.37" height="6.69" fill="#b8bd63"/>
<rect x="412.75" y="133.20" width="8.37" height="6.69" fill="#22b4ac"/>
<rect x="421.07" y="133.20" width="16.68" height="6.69" fill="#127cd8"/>
<rect x="437.70" y="133.20" width="8.37" height="6.69" fill="#1389d3"/>
<rect x="446.02" y="133.20" width="8.37" height="6.69" fill="#b8bd63"/>
<rect x="454.33" y="133.20" width="8.37" height="6.69" fill="#ffc436"/>
<rect x="462.65" y="133.20" width="8.37" height="6.69" fill="#f7d826"/>
<rect x="470.97" y="133.20" width="8.37" height="6.69" fill="#f7d826"/>
<rect x="479.28" y="133.20" width="8.37" height="6.69" fill="#f7d826"/>
<rect x="387.80" y="139.84" width="8.37" height="6.69" fill="#e2b951"/>
<rect x="396.12" y="139.84" width="8.37" height="6.69" fill="#c3bc5f"/>
<rect x="404.43" y="139.84" width="8.37" height="6.69" fill="#88bf77"/>
<rect x="412.75" y="139.84" width="8.37" height="6.69" fill="#0cadbb"/>
<rect x="421.07" y="139.84" width="16.68" height="6.69" fill="#0770df"/>
<rect x="437.70" y="139.84" width="8.37" height="6.69" fill="#0770df"/>
<rect x="446.02" y="139.84" width="8.37" height="6.69" fill="#7abf7c"/>
<rect x="454.33" y="139.84" width="8.37" height="6.69" fill="#ddba54"/>
<rect x="462.65" y="139.84" width="8.37" height="6.69" fill="#fdbe3e"/>
<rect x="470.97" y="139.84" width="8.37" height="6.69" fill="#fdbe3e"/>
<rect x="479.28" y="139.84" width="8.37" height="6.69" fill="#ffc436"/>
<rect x="387.80" y="146.47" width="8.37" height="6.69" fill="#bebc61"/>
<rect x="396.12" y="146.47" width="8.37" height="6.69" fill="#9bbf6f"/>
<rect x="404.43" y="146.47" width="8.37" height="6.69" fill="#5cbe8a"/>
<rect x="412.75" y="146.47" width="8.37" height="6.69" fill="#06a5c9"/>
<rect x="421.07" y="146.47" width="16.68" height="6.69" fill="#0267e1"/>
<rect x="437.70" y="146.47" width="8.37" height="6.69" fill="#056de0"/>
<rect x="446.02" y="146.47" width="8.37" height="6.69" fill="#4dbc92"/>
<rect x="454.33" y="146.47" width="8.37" height="6.69" fill="#adbe68"/>
<rect x="462.65" y="146.47" width="8.37" height="6.69" fill="#d8ba56"/>
<rect x="470.97" y="146.47" width="8.37" height="6.69" fill="#ddba54"/>
<rect x="479.28" y="146.47" width="8.37" height="6.69" fill="#e2b951"/>
<rect x="387.80" y="153.11" width="8.37" height="6.69" fill="#8ebf74"/>
<rect x="396.12" y="153.11" width="8.37" height="6.69" fill="#7abf7c"/>
<rect x="404.43" y="153.11" width="8.37" height="6.69" fill="#33b8a1"/>
<rect x="412.75" y="153.11" width="8.37" height="6.69" fill="#06a3cb"/>
<rect x="421.07" y="153.11" width="16.68" height="6.69" fill="#0364e1"/>
<rect x="437.70" y="153.11" width="8.37" height="6.69" fill="#0364e1"/>
<rect x="446.02" y="153.11" width="8.37" height="6.69" fill="#22b4ac"/>
<rect x="454.33" y="153.11" width="8.37" height="6.69" fill="#7abf7c"/>
<rect x="462.65" y="153.11" width="8.37" height="6.69" fill="#a1be6c"/>
<rect x="470.97" y="153.11" width="8.37" height="6.69" fill="#adbe68"/>
<rect x="479.28" y="153.11" width="8.37" height="6.69" fill="#b8bd63"/>
<rect x="387.80" y="159.74" width="8.37" height="4.47" fill="#6bbf83"/>
<rect x="396.12" y="159.74" width="8.37" height="4.47" fill="#4dbc92"/>
<rect x="404.43" y="159.74" width="8.37" height="4.47" fill="#18b1b2"/>
<rect x="412.75" y="159.74" width="8.37" height="4.47" fill="#069ece"/>
<rect x="421.07" y="159.74" width="16.68" height="4.47" fill="#0860df"/>
<rect x="437.70" y="159.74" width="8.37" height="4.47" fill="#0860df"/>
<rect x="446.02" y="159.74" width="8.37" height="4.47" fill="#0cadbb"/>
<rect x="454.33" y="159.74" width="8.37" height="4.47" fill="#46bb95"/>
<rect x="462.65" y="159.74" width="8.37" height="4.47" fill="#7abf7c"/>
<rect x="470.97" y="159.74" width="8.37" height="4.47" fill="#88bf77"/>
<rect x="479.28" y="159.74" width="8.37" height="4.47" fill="#9bbf6f"/>
<rect x="387.80" y="164.16" width="8.37" height="4.47" fill="#3fba99"/>
<rect x="396.12" y="164.16" width="8.37" height="4.47" fill="#27b5a8"/>
<rect x="404.43" y="164.16" width="8.37" height="4.47" fill="#07aac1"/>
<rect x="412.75" y="164.16" width="8.37" height="4.47" fill="#118cd2"/>
<rect x="421.07" y="164.16" width="16.68" height="4.47" fill="#1b55d7"/>
<rect x="437.70" y="164.16" width="8.37" height="4.47" fill="#2b4bc7"/>
<rect x="446.02" y="164.16" width="8.37" height="4.47" fill="#07aac1"/>
<rect x="454.33" y="164.16" width="8.37" height="4.47" fill="#22b4ac"/>
<rect x="462.65" y="164.16" width="8.37" height="4.47" fill="#4dbc92"/>
<rect x="470.97" y="164.16" width="8.37" height="4.47" fill="#64be86"/>
<rect x="479.28" y="164.16" width="8.37" height="4.47" fill="#73bf80"/>
<rect x="387.80" y="168.59" width="8.37" height="6.69" fill="#27b5a8"/>
<rect x="396.12" y="168.59" width="8.37" height="6.69" fill="#0cadbb"/>
<rect x="404.43" y="168.59" width="8.37" height="6.69" fill="#06a5c9"/>
<rect x="412.75" y="168.59" width="8.37" height="6.69" fill="#127cd8"/>
<rect x="421.07" y="168.59" width="16.68" height="6.69" fill="#2f46bf"/>
<rect x="437.70" y="168.59" width="8.37" height="6.69" fill="#2f46bf"/>
<rect x="446.02" y="168.59" width="8.37" height="6.69" fill="#118cd2"/>
<rect x="454.33" y="168.59" width="8.37" height="6.69" fill="#14b0b5"/>
<rect x="462.65" y="168.59" width="8.37" height="6.69" fill="#27b5a8"/>
<rect x="470.97" y="168.59" width="8.37" height="6.69" fill="#33b8a1"/>
<rect x="479.28" y="168.59" width="8.37" height="6.69" fill="#33b8a1"/>
<rect x="387.80" y="175.22" width="8.37" height="6.69" fill="#09acbe"/>
<rect x="396.12" y="175.22" width="8.37" height="6.69" fill="#06a8c4"/>
<rect x="404.43" y="175.22" width="8.37" height="6.69" fill="#0f8fd2"/>
<rect x="412.75" y="175.22" width="8.37" height="6.69" fill="#0770df"/>
<rect x="421.07" y="175.22" width="16.68" height="6.69" fill="#353eaf"/>
<rect x="437.70" y="175.22" width="8.37" height="6.69" fill="#353eaf"/>
<rect x="446.02" y="175.22" width="8.37" height="6.69" fill="#137fd7"/>
<rect x="454.33" y="175.22" width="8.37" height="6.69" fill="#06a8c4"/>
<rect x="462.65" y="175.22" width="8.37" height="6.69" fill="#09acbe"/>
<rect x="470.97" y="175.22" width="8.37" height="6.69" fill="#14b0b5"/>
<rect x="479.28" y="175.22" width="8.37" height="6.69" fill="#18b1b2"/>
<rect x="387.80" y="181.86" width="8.37" height="6.69" fill="#06a3cb"/>
<rect x="396.12" y="181.86" width="8.37" height="6.69" fill="#0f8fd2"/>
<rect x="404.43" y="181.86" width="8.37" height="6.69" fill="#127cd8"/>
<rect x="412.75" y="181.86" width="8.37" height="6.69" fill="#0364e1"/>
<rect x="421.07" y="181.86" width="16.68" height="6.69" fill="#363297"/>
<rect x="437.70" y="181.86" width="8.37" height="6.69" fill="#36369f"/>
<rect x="446.02" y="181.86" width="8.37" height="6.69" fill="#036ae1"/>
<rect x="454.33" y="181.86" width="8.37" height="6.69" fill="#0f8fd2"/>
<rect x="462.65" y="181.86" width="8.37" height="6.69" fill="#06a3cb"/>
<rect x="470.97" y="181.86" width="8.37" height="6.69" fill="#06a5c9"/>
<rect x="479.28" y="181.86" width="8.37" height="6.69" fill="#06a8c4"/>
<rect x="387.80" y="188.49" width="8.37" height="6.69" fill="#118cd2"/>
<rect x="396.12" y="188.49" width="8.37" height="6.69" fill="#127cd8"/>
<rect x="404.43" y="188.49" width="8.37" height="6.69" fill="#0267e1"/>
<rect x="412.75" y="188.49" width="8.37" height="6.69" fill="#2f46bf"/>
<rect x="421.07" y="188.49" width="16.68" height="6.69" fill="#362e8f"/>
<rect x="437.70" y="188.49" width="8.37" height="6.69" fill="#363297"/>
<rect x="446.02" y="188.49" width="8.37" height="6.69" fill="#2b4bc7"/>
<rect x="454.33" y="188.49" width="8.37" height="6.69" fill="#0770df"/>
<rect x="462.65" y="188.49" width="8.37" height="6.69" fill="#1484d4"/>
<rect x="470.97" y="188.49" width="8.37" height="6.69" fill="#118cd2"/>
<rect x="479.28" y="188.49" width="8.37" height="6.69" fill="#0d93d2"/>
<rect x="387.80" y="195.13" width="8.37" height="6.69" fill="#056de0"/>
<rect x="396.12" y="195.13" width="8.37" height="6.69" fill="#0364e1"/>
<rect x="404.43" y="195.13" width="8.37" height="6.69" fill="#2b4bc7"/>
<rect x="412.75" y="195.13" width="8.37" height="6.69" fill="#353eaf"/>
<rect x="421.07" y="195.13" width="16.68" height="6.69" fill="#352a87"/>
<rect x="437.70" y="195.13" width="8.37" height="6.69" fill="#362e8f"/>
<rect x="446.02" y="195.13" width="8.37" height="6.69" fill="#353eaf"/>
<rect x="454.33" y="195.13" width="8.37" height="6.69" fill="#1b55d7"/>
<rect x="462.65" y="195.13" width="8.37" height="6.69" fill="#0364e1"/>
<rect x="470.97" y="195.13" width="8.37" height="6.69" fill="#0770df"/>
<rect x="479.28" y="195.13" width="8.37" height="6.69" fill="#117ada"/>
<rect x="387.80" y="201.76" width="8.37" height="6.69" fill="#2b4bc7"/>
<rect x="396.12" y="201.76" width="8.37" height="6.69" fill="#3342b7"/>
<rect x="404.43" y="201.76" width="8.37" height="6.69" fill="#36369f"/>
<rect x="412.75" y="201.76" width="8.37" height="6.69" fill="#363297"/>
<rect x="421.07" y="201.76" width="16.68" height="6.69" fill="#352a87"/>
<rect x="437.70" y="201.76" width="8.37" height="6.69" fill="#352a87"/>
<rect x="446.02" y="201.76" width="8.37" height="6.69" fill="#36369f"/>
<rect x="454.33" y="201.76" width="8.37" height="6.69" fill="#3342b7"/>
<rect x="462.65" y="201.76" width="8.37" height="6.69" fill="#2b4bc7"/>
<rect x="470.97" y="201.76" width="8.37" height="6.69" fill="#105bdd"/>
<rect x="479.28" y="201.76" width="8.37" height="6.69" fill="#0364e1"/>
<path d="M396.12 133.20V208.40M404.43 133.20V208.40M412.75 133.20V208.40M421.07 133.20V208.40M437.70 133.20V208.40M446.02 133.20V208.40M454.33 133.20V208.40M462.65 133.20V208.40M470.97 133.20V208.40M479.28 133.20V208.40" stroke="#1a1a1a" stroke-width="0.6" stroke-opacity="0.6" fill="none"/>
<path d="M387.80 139.84H487.60M387.80 146.47H487.60M387.80 153.11H487.60M387.80 159.74H487.60M387.80 164.16H487.60M387.80 168.59H487.60M387.80 175.22H487.60M387.80 181.86H487.60M387.80 188.49H487.60M387.80 195.13H487.60M387.80 201.76H487.60" stroke="#1a1a1a" stroke-width="0.65" stroke-opacity="0.85" fill="none"/>
<path d="M387.80 133.50H487.30" fill="none" stroke="#1a1a1a" stroke-width="0.7" stroke-opacity="0.85"/>
<path d="M487.30 133.20V208.40" fill="none" stroke="#1a1a1a" stroke-width="0.7" stroke-opacity="0.6"/>
<text x="385.00" y="144.95" font-size="9.1" text-anchor="end" >10</text>
<text x="385.00" y="162.64" font-size="9.1" text-anchor="end" >8</text>
<text x="385.00" y="180.34" font-size="9.1" text-anchor="end" >6</text>
<text x="385.00" y="198.03" font-size="9.1" text-anchor="end" >4</text>
<text x="398.89" y="218.90" font-size="9.1" text-anchor="middle" >0.2</text>
<text x="421.07" y="218.90" font-size="9.1" text-anchor="middle" >0.4</text>
<text x="443.24" y="218.90" font-size="9.1" text-anchor="middle" >0.6</text>
<text x="465.42" y="218.90" font-size="9.1" text-anchor="middle" >0.8</text>
<text x="487.00" y="218.90" font-size="9.1" text-anchor="middle" >1</text>
<text transform="translate(367.50,170.80) rotate(-90)" font-size="10.3" font-weight="bold" text-anchor="middle"><tspan>P</tspan><tspan font-size="8.03" dy="4.74">T</tspan><tspan font-size="10.3" dx="0.7" dy="-4.74">&#160;(W)</tspan></text>
<text x="437.70" y="229.80" font-size="10.3" font-weight="bold" text-anchor="middle" >R</text>
<rect x="49.40" y="133.20" width="103.80" height="81.10" fill="#fff" stroke="#8a8a8a" stroke-width="0.7"/>
<path d="M67.46 214.30v-1.2M67.46 133.20v1.2" stroke="#8a8a8a" stroke-width="0.5"/>
<text x="67.46" y="224.80" font-size="9.1" text-anchor="middle" >500</text>
<path d="M106.38 214.30v-1.2M106.38 133.20v1.2" stroke="#8a8a8a" stroke-width="0.5"/>
<text x="106.38" y="224.80" font-size="9.1" text-anchor="middle" >1500</text>
<path d="M145.30 214.30v-1.2M145.30 133.20v1.2" stroke="#8a8a8a" stroke-width="0.5"/>
<text x="145.30" y="224.80" font-size="9.1" text-anchor="middle" >2500</text>
<path d="M49.40 200.01h1.2M153.20 200.01h-1.2" stroke="#8a8a8a" stroke-width="0.5"/>
<text x="46.40" y="202.91" font-size="9.1" text-anchor="end" >500</text>
<path d="M49.40 184.86h1.2M153.20 184.86h-1.2" stroke="#8a8a8a" stroke-width="0.5"/>
<text x="46.40" y="187.76" font-size="9.1" text-anchor="end" >1000</text>
<path d="M49.40 169.72h1.2M153.20 169.72h-1.2" stroke="#8a8a8a" stroke-width="0.5"/>
<text x="46.40" y="172.62" font-size="9.1" text-anchor="end" >1500</text>
<path d="M49.40 154.58h1.2M153.20 154.58h-1.2" stroke="#8a8a8a" stroke-width="0.5"/>
<text x="46.40" y="157.48" font-size="9.1" text-anchor="end" >2000</text>
<path d="M49.40 139.44h1.2M153.20 139.44h-1.2" stroke="#8a8a8a" stroke-width="0.5"/>
<text x="46.40" y="142.34" font-size="9.1" text-anchor="end" >2500</text>
<g fill="none" stroke="#0868c0" stroke-width="1.4"><circle cx="49.50" cy="214.14" r="2.15"/><circle cx="50.00" cy="213.84" r="2.15"/><circle cx="50.60" cy="213.32" r="2.15"/><circle cx="51.20" cy="212.92" r="2.15"/><circle cx="51.90" cy="212.38" r="2.15"/><circle cx="52.60" cy="211.67" r="2.15"/><circle cx="53.30" cy="211.11" r="2.15"/><circle cx="54.10" cy="210.73" r="2.15"/><circle cx="55.00" cy="209.85" r="2.15"/><circle cx="55.90" cy="209.14" r="2.15"/><circle cx="56.80" cy="208.67" r="2.15"/><circle cx="57.80" cy="207.73" r="2.15"/><circle cx="58.80" cy="207.06" r="2.15"/><circle cx="59.90" cy="206.09" r="2.15"/><circle cx="61.00" cy="205.28" r="2.15"/><circle cx="62.20" cy="204.19" r="2.15"/><circle cx="63.60" cy="203.25" r="2.15"/><circle cx="65.00" cy="202.22" r="2.15"/><circle cx="66.60" cy="200.87" r="2.15"/><circle cx="68.20" cy="199.68" r="2.15"/><circle cx="70.00" cy="198.26" r="2.15"/><circle cx="71.80" cy="196.67" r="2.15"/><circle cx="74.50" cy="194.77" r="2.15"/><circle cx="77.80" cy="192.14" r="2.15"/><circle cx="81.70" cy="189.00" r="2.15"/><circle cx="85.70" cy="185.80" r="2.15"/><circle cx="89.00" cy="183.47" r="2.15"/><circle cx="94.10" cy="179.37" r="2.15"/><circle cx="98.20" cy="176.24" r="2.15"/><circle cx="101.90" cy="173.39" r="2.15"/><circle cx="103.40" cy="172.17" r="2.15"/><circle cx="108.90" cy="167.94" r="2.15"/><circle cx="110.60" cy="166.45" r="2.15"/><circle cx="113.00" cy="164.70" r="2.15"/><circle cx="120.90" cy="158.42" r="2.15"/><circle cx="122.90" cy="157.00" r="2.15"/><circle cx="129.10" cy="152.14" r="2.15"/><circle cx="137.30" cy="145.50" r="2.15"/><circle cx="143.90" cy="140.36" r="2.15"/><circle cx="146.00" cy="138.74" r="2.15"/><circle cx="150.70" cy="135.29" r="2.15"/><circle cx="73.20" cy="196.20" r="2.15"/><circle cx="76.30" cy="192.78" r="2.15"/><circle cx="79.80" cy="191.05" r="2.15"/><circle cx="83.60" cy="187.18" r="2.15"/><circle cx="87.40" cy="185.01" r="2.15"/><circle cx="69.00" cy="198.59" r="2.15"/><circle cx="65.80" cy="201.89" r="2.15"/></g>
<path d="M49.40 214.30L153.20 133.20" stroke="#f73c3c" stroke-width="0.85"/>
<rect x="532.50" y="133.20" width="99.90" height="75.20" fill="#fff" stroke="#8a8a8a" stroke-width="0.7"/>
<path d="M549.37 208.40v-1.2M549.37 133.20v1.2" stroke="#8a8a8a" stroke-width="0.5"/>
<text x="549.37" y="218.90" font-size="9.1" text-anchor="middle" >500</text>
<path d="M586.54 208.40v-1.2M586.54 133.20v1.2" stroke="#8a8a8a" stroke-width="0.5"/>
<text x="586.54" y="218.90" font-size="9.1" text-anchor="middle" >1500</text>
<path d="M623.70 208.40v-1.2M623.70 133.20v1.2" stroke="#8a8a8a" stroke-width="0.5"/>
<text x="623.70" y="218.90" font-size="9.1" text-anchor="middle" >2500</text>
<path d="M532.50 195.31h1.2M632.40 195.31h-1.2" stroke="#8a8a8a" stroke-width="0.5"/>
<text x="529.50" y="198.21" font-size="9.1" text-anchor="end" >500</text>
<path d="M532.50 181.41h1.2M632.40 181.41h-1.2" stroke="#8a8a8a" stroke-width="0.5"/>
<text x="529.50" y="184.31" font-size="9.1" text-anchor="end" >1000</text>
<path d="M532.50 167.51h1.2M632.40 167.51h-1.2" stroke="#8a8a8a" stroke-width="0.5"/>
<text x="529.50" y="170.41" font-size="9.1" text-anchor="end" >1500</text>
<path d="M532.50 153.61h1.2M632.40 153.61h-1.2" stroke="#8a8a8a" stroke-width="0.5"/>
<text x="529.50" y="156.51" font-size="9.1" text-anchor="end" >2000</text>
<path d="M532.50 139.71h1.2M632.40 139.71h-1.2" stroke="#8a8a8a" stroke-width="0.5"/>
<text x="529.50" y="142.61" font-size="9.1" text-anchor="end" >2500</text>
<path d="M532.50 208.40L632.40 133.20" stroke="#f73c3c" stroke-width="0.85"/>
<g fill="none" stroke="#0868c0" stroke-width="1.5"><circle cx="555.71" cy="190.30" r="2.3"/><circle cx="562.42" cy="185.25" r="2.3"/><circle cx="551.40" cy="193.44" r="2.3"/><circle cx="570.46" cy="180.11" r="2.3"/><circle cx="611.93" cy="147.79" r="2.3"/><circle cx="604.95" cy="152.41" r="2.3"/><circle cx="625.27" cy="138.11" r="2.3"/><circle cx="605.55" cy="152.82" r="2.3"/><circle cx="621.12" cy="141.98" r="2.3"/><circle cx="585.74" cy="167.62" r="2.3"/><circle cx="539.47" cy="203.20" r="2.3"/><circle cx="543.91" cy="198.88" r="2.3"/><circle cx="533.66" cy="208.24" r="2.3"/><circle cx="534.32" cy="205.41" r="2.3"/><circle cx="597.14" cy="159.18" r="2.3"/><circle cx="544.51" cy="199.23" r="2.3"/><circle cx="592.85" cy="162.78" r="2.3"/><circle cx="573.84" cy="176.86" r="2.3"/><circle cx="533.28" cy="207.41" r="2.3"/><circle cx="608.49" cy="150.41" r="2.3"/><circle cx="623.63" cy="137.52" r="2.3"/><circle cx="545.60" cy="198.17" r="2.3"/><circle cx="534.00" cy="206.86" r="2.3"/><circle cx="538.75" cy="203.31" r="2.3"/><circle cx="553.25" cy="192.23" r="2.3"/><circle cx="533.24" cy="207.34" r="2.3"/><circle cx="606.58" cy="151.79" r="2.3"/><circle cx="610.81" cy="150.43" r="2.3"/><circle cx="550.75" cy="193.72" r="2.3"/><circle cx="577.23" cy="174.60" r="2.3"/><circle cx="571.72" cy="177.87" r="2.3"/><circle cx="617.42" cy="143.90" r="2.3"/><circle cx="562.39" cy="184.80" r="2.3"/><circle cx="540.96" cy="202.10" r="2.3"/><circle cx="545.00" cy="199.35" r="2.3"/><circle cx="566.62" cy="182.32" r="2.3"/><circle cx="532.85" cy="207.21" r="2.3"/><circle cx="532.92" cy="208.15" r="2.3"/><circle cx="573.98" cy="176.74" r="2.3"/><circle cx="575.30" cy="175.74" r="2.3"/><circle cx="558.46" cy="188.34" r="2.3"/><circle cx="584.87" cy="168.21" r="2.3"/><circle cx="588.83" cy="165.89" r="2.3"/><circle cx="581.06" cy="171.57" r="2.3"/><circle cx="620.92" cy="141.54" r="2.3"/><circle cx="571.39" cy="179.43" r="2.3"/><circle cx="546.34" cy="197.37" r="2.3"/><circle cx="550.06" cy="195.24" r="2.3"/><circle cx="571.71" cy="178.41" r="2.3"/><circle cx="593.32" cy="162.83" r="2.3"/><circle cx="533.00" cy="206.91" r="2.3"/><circle cx="545.62" cy="197.84" r="2.3"/><circle cx="540.10" cy="202.51" r="2.3"/><circle cx="538.25" cy="203.39" r="2.3"/><circle cx="555.63" cy="190.61" r="2.3"/><circle cx="546.48" cy="197.34" r="2.3"/><circle cx="547.34" cy="197.23" r="2.3"/><circle cx="604.82" cy="153.15" r="2.3"/><circle cx="537.38" cy="204.01" r="2.3"/><circle cx="609.08" cy="151.14" r="2.3"/><circle cx="557.06" cy="189.65" r="2.3"/><circle cx="564.67" cy="184.16" r="2.3"/><circle cx="538.42" cy="204.01" r="2.3"/><circle cx="538.06" cy="202.93" r="2.3"/><circle cx="543.49" cy="200.10" r="2.3"/><circle cx="597.91" cy="158.12" r="2.3"/><circle cx="548.20" cy="196.59" r="2.3"/><circle cx="596.22" cy="160.47" r="2.3"/><circle cx="543.01" cy="199.86" r="2.3"/><circle cx="554.27" cy="192.18" r="2.3"/><circle cx="553.38" cy="192.66" r="2.3"/><circle cx="532.81" cy="207.71" r="2.3"/><circle cx="617.82" cy="145.05" r="2.3"/><circle cx="555.55" cy="189.64" r="2.3"/><circle cx="618.88" cy="143.42" r="2.3"/><circle cx="589.80" cy="164.80" r="2.3"/><circle cx="602.15" cy="155.33" r="2.3"/><circle cx="544.18" cy="198.74" r="2.3"/><circle cx="547.88" cy="196.55" r="2.3"/><circle cx="570.95" cy="179.36" r="2.3"/><circle cx="544.05" cy="199.47" r="2.3"/><circle cx="611.84" cy="148.22" r="2.3"/><circle cx="583.23" cy="170.96" r="2.3"/><circle cx="611.25" cy="148.28" r="2.3"/><circle cx="569.66" cy="181.03" r="2.3"/><circle cx="537.50" cy="204.41" r="2.3"/><circle cx="544.92" cy="198.40" r="2.3"/><circle cx="553.75" cy="191.53" r="2.3"/><circle cx="617.18" cy="143.98" r="2.3"/><circle cx="541.85" cy="200.74" r="2.3"/><circle cx="605.70" cy="152.05" r="2.3"/><circle cx="548.70" cy="196.04" r="2.3"/><circle cx="538.75" cy="202.41" r="2.3"/><circle cx="537.48" cy="204.13" r="2.3"/><circle cx="595.92" cy="161.24" r="2.3"/><circle cx="600.30" cy="156.59" r="2.3"/><circle cx="532.82" cy="207.10" r="2.3"/><circle cx="533.38" cy="206.65" r="2.3"/><circle cx="543.03" cy="200.10" r="2.3"/><circle cx="554.55" cy="192.17" r="2.3"/><circle cx="559.09" cy="188.09" r="2.3"/><circle cx="533.47" cy="207.33" r="2.3"/><circle cx="535.61" cy="205.91" r="2.3"/><circle cx="622.70" cy="140.35" r="2.3"/><circle cx="604.67" cy="154.33" r="2.3"/><circle cx="546.04" cy="198.24" r="2.3"/><circle cx="545.95" cy="197.51" r="2.3"/><circle cx="570.72" cy="179.97" r="2.3"/><circle cx="549.40" cy="195.56" r="2.3"/><circle cx="535.49" cy="206.31" r="2.3"/><circle cx="567.37" cy="181.74" r="2.3"/><circle cx="534.08" cy="206.39" r="2.3"/><circle cx="537.82" cy="203.57" r="2.3"/><circle cx="594.70" cy="161.81" r="2.3"/><circle cx="550.95" cy="194.46" r="2.3"/><circle cx="555.31" cy="190.20" r="2.3"/><circle cx="550.32" cy="193.83" r="2.3"/><circle cx="554.33" cy="191.69" r="2.3"/><circle cx="583.28" cy="169.48" r="2.3"/><circle cx="565.31" cy="183.50" r="2.3"/><circle cx="583.41" cy="170.30" r="2.3"/><circle cx="554.80" cy="191.57" r="2.3"/><circle cx="608.31" cy="151.52" r="2.3"/><circle cx="610.98" cy="148.81" r="2.3"/><circle cx="595.82" cy="160.39" r="2.3"/><circle cx="535.47" cy="206.48" r="2.3"/><circle cx="598.87" cy="157.54" r="2.3"/><circle cx="596.03" cy="159.30" r="2.3"/><circle cx="580.04" cy="172.24" r="2.3"/><circle cx="534.77" cy="205.68" r="2.3"/><circle cx="570.85" cy="179.54" r="2.3"/><circle cx="593.59" cy="162.13" r="2.3"/><circle cx="533.27" cy="207.73" r="2.3"/><circle cx="608.43" cy="151.08" r="2.3"/><circle cx="537.85" cy="205.12" r="2.3"/><circle cx="535.40" cy="206.07" r="2.3"/><circle cx="603.17" cy="154.42" r="2.3"/><circle cx="619.23" cy="141.89" r="2.3"/><circle cx="569.90" cy="180.00" r="2.3"/><circle cx="592.67" cy="162.66" r="2.3"/><circle cx="562.82" cy="185.22" r="2.3"/><circle cx="590.24" cy="164.38" r="2.3"/><circle cx="616.50" cy="145.32" r="2.3"/><circle cx="568.27" cy="181.36" r="2.3"/><circle cx="600.93" cy="156.60" r="2.3"/><circle cx="541.69" cy="201.53" r="2.3"/><circle cx="574.00" cy="176.87" r="2.3"/><circle cx="549.92" cy="194.44" r="2.3"/><circle cx="552.30" cy="192.86" r="2.3"/><circle cx="534.17" cy="207.30" r="2.3"/><circle cx="561.73" cy="186.66" r="2.3"/><circle cx="590.04" cy="164.69" r="2.3"/><circle cx="536.99" cy="204.38" r="2.3"/><circle cx="580.80" cy="170.88" r="2.3"/><circle cx="563.40" cy="184.05" r="2.3"/><circle cx="610.92" cy="149.15" r="2.3"/><circle cx="536.50" cy="205.84" r="2.3"/><circle cx="613.78" cy="147.43" r="2.3"/><circle cx="563.42" cy="184.01" r="2.3"/><circle cx="538.19" cy="204.13" r="2.3"/><circle cx="542.77" cy="200.60" r="2.3"/><circle cx="545.97" cy="198.66" r="2.3"/><circle cx="540.65" cy="201.47" r="2.3"/><circle cx="544.64" cy="197.69" r="2.3"/><circle cx="584.67" cy="167.91" r="2.3"/><circle cx="570.50" cy="180.05" r="2.3"/><circle cx="542.76" cy="200.40" r="2.3"/><circle cx="559.71" cy="187.73" r="2.3"/><circle cx="551.15" cy="194.31" r="2.3"/><circle cx="546.48" cy="198.03" r="2.3"/><circle cx="593.57" cy="163.18" r="2.3"/><circle cx="559.72" cy="188.94" r="2.3"/><circle cx="572.09" cy="177.28" r="2.3"/><circle cx="600.04" cy="157.47" r="2.3"/><circle cx="567.54" cy="180.85" r="2.3"/><circle cx="604.98" cy="153.64" r="2.3"/><circle cx="552.60" cy="192.83" r="2.3"/><circle cx="558.57" cy="187.09" r="2.3"/><circle cx="540.50" cy="202.16" r="2.3"/><circle cx="580.98" cy="172.48" r="2.3"/><circle cx="620.21" cy="142.33" r="2.3"/><circle cx="538.36" cy="203.36" r="2.3"/><circle cx="542.22" cy="201.11" r="2.3"/><circle cx="605.26" cy="154.12" r="2.3"/><circle cx="611.27" cy="148.77" r="2.3"/><circle cx="545.86" cy="199.14" r="2.3"/><circle cx="554.58" cy="191.45" r="2.3"/><circle cx="534.45" cy="206.40" r="2.3"/><circle cx="601.76" cy="155.83" r="2.3"/><circle cx="570.03" cy="180.35" r="2.3"/><circle cx="581.00" cy="172.09" r="2.3"/><circle cx="555.72" cy="190.64" r="2.3"/><circle cx="560.33" cy="187.33" r="2.3"/><circle cx="619.68" cy="143.18" r="2.3"/><circle cx="551.82" cy="193.29" r="2.3"/><circle cx="543.24" cy="199.94" r="2.3"/><circle cx="579.78" cy="173.38" r="2.3"/><circle cx="612.61" cy="148.55" r="2.3"/><circle cx="534.58" cy="207.03" r="2.3"/><circle cx="593.34" cy="162.11" r="2.3"/><circle cx="591.34" cy="163.58" r="2.3"/><circle cx="578.43" cy="174.32" r="2.3"/><circle cx="597.89" cy="158.79" r="2.3"/><circle cx="620.61" cy="142.69" r="2.3"/><circle cx="580.67" cy="171.57" r="2.3"/><circle cx="561.10" cy="186.51" r="2.3"/><circle cx="548.73" cy="195.72" r="2.3"/><circle cx="568.52" cy="180.17" r="2.3"/><circle cx="537.98" cy="203.50" r="2.3"/><circle cx="537.85" cy="203.46" r="2.3"/><circle cx="549.89" cy="200.03" r="2.3"/><circle cx="555.62" cy="195.94" r="2.3"/><circle cx="562.64" cy="190.18" r="2.3"/><circle cx="570.22" cy="184.68" r="2.3"/><circle cx="577.05" cy="179.58" r="2.3"/><circle cx="585.46" cy="172.99" r="2.3"/><circle cx="593.98" cy="166.38" r="2.3"/><circle cx="603.12" cy="160.05" r="2.3"/><circle cx="610.74" cy="154.29" r="2.3"/><circle cx="617.36" cy="148.93" r="2.3"/><circle cx="632.40" cy="133.50" r="2.3"/><circle cx="629.50" cy="135.38" r="2.3"/><circle cx="626.80" cy="137.62" r="2.3"/><circle cx="622.50" cy="140.95" r="2.3"/><circle cx="620.80" cy="141.73" r="2.3"/><circle cx="617.00" cy="145.29" r="2.3"/><circle cx="612.60" cy="147.80" r="2.3"/><circle cx="610.50" cy="150.09" r="2.3"/><circle cx="606.60" cy="152.62" r="2.3"/></g>
<text x="101.50" y="235.60" font-size="10.3" font-weight="bold" text-anchor="middle"><tspan>E</tspan><tspan font-size="8.03" dy="4.74">E</tspan><tspan font-size="10.3" dx="0.7" dy="-4.74">&#160;(pJ)</tspan></text>
<text x="583.00" y="229.80" font-size="10.3" font-weight="bold" text-anchor="middle"><tspan>E</tspan><tspan font-size="8.03" dy="4.74">E</tspan><tspan font-size="10.3" dx="0.7" dy="-4.74">&#160;(pJ)</tspan></text>
<text transform="translate(16.50,172.50) rotate(-90)" font-size="10.3" font-weight="bold" text-anchor="middle"><tspan>E</tspan><tspan font-size="8.03" dy="4.74">N</tspan><tspan font-size="10.3" dx="0.7" dy="-4.74">&#160;(pJ)</tspan></text>
<text transform="translate(499.60,171.00) rotate(-90)" font-size="10.3" font-weight="bold" text-anchor="middle"><tspan>E</tspan><tspan font-size="8.03" dy="4.74">N</tspan><tspan font-size="10.3" dx="0.7" dy="-4.74">&#160;(pJ)</tspan></text>
</g></svg>
</body></html>
